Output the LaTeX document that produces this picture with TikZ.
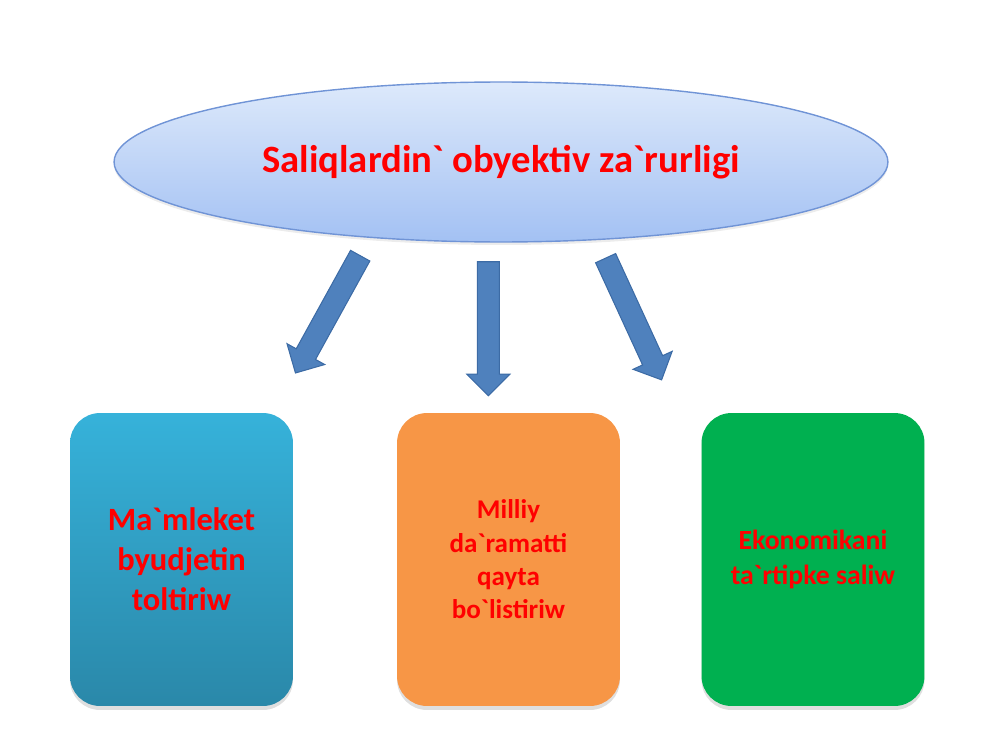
\documentclass[tikz,border=0pt]{standalone}
\usepackage{fontspec}
\newfontfamily\carlito{Carlito}
\usepackage{tikz}
\usetikzlibrary{shapes.geometric, shapes.arrows, shadows, positioning}

\definecolor{ovaltop}{HTML}{DDE9FB}
\definecolor{ovalbot}{HTML}{A3C1F3}
\definecolor{ovalline}{HTML}{7094D6}
\definecolor{arrowfill}{HTML}{4F81BD}
\definecolor{arrowline}{HTML}{3C6BA5}
\definecolor{bluetop}{HTML}{36B2DA}
\definecolor{bluebot}{HTML}{2A88A9}
\definecolor{orangebox}{HTML}{F79646}
\definecolor{greenbox}{HTML}{00B050}

\tikzset{
  card/.style={rounded corners=0.6cm, minimum width=4.46cm, minimum height=5.86cm,
    align=center, text=red, font=\carlito\bfseries,
    drop shadow={opacity=0.25, shadow xshift=0cm, shadow yshift=-0.08cm}},
  blockarrow/.style={single arrow, draw=arrowline, fill=arrowfill, line width=0.6pt,
    inner xsep=0pt, inner ysep=0.21cm, single arrow head extend=0.21cm,
    minimum height=2.68cm}
}

\begin{document}
\begin{tikzpicture}[x=0.02cm, y=-0.02cm]
\useasboundingbox (0,0) rectangle (1000,750);

% Top oval
\node[ellipse, draw=ovalline, line width=0.8pt, top color=ovaltop, bottom color=ovalbot,
  minimum width=15.48cm, minimum height=3.2cm, text=red, font=\carlito\bfseries\fontsize{22}{26}\selectfont,
  drop shadow={opacity=0.15, shadow xshift=0cm, shadow yshift=-0.06cm}]
  (oval) at (501,162) {Saliqlardin` obyektiv za`rurligi};

% Block arrows
\node[blockarrow, rotate=-118.9] (arrowL) at (330.5,309.5) {};
\node[blockarrow, rotate=-90] (arrowM) at (488.3,323.2) {};
\node[blockarrow, rotate=-65.3] (arrowR) at (631.3,314) {};

% Boxes
\node[card, top color=bluetop, bottom color=bluebot, font=\carlito\bfseries\fontsize{18.5}{22.8}\selectfont]
  (budget) at (181.5,559.5) {Ma`mleket\\byudjetin\\toltiriw};
\node[card, fill=orangebox, font=\carlito\bfseries\fontsize{15.4}{19}\selectfont]
  (income) at (508.5,559.5) {Milliy\\da`ramatti\\qayta\\bo`listiriw};
\node[card, fill=greenbox, font=\carlito\bfseries\fontsize{15.8}{19.5}\selectfont]
  (economy) at (813,559.5) {\raisebox{-0.1cm}{Ekonomikani}\\\raisebox{-0.1cm}{ta`rtipke saliw}};
\end{tikzpicture}
\end{document}
